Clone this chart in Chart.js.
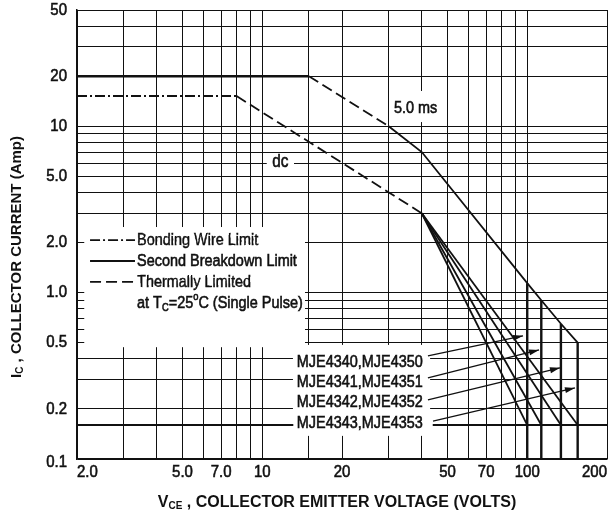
<!DOCTYPE html>
<html>
<head>
<meta charset="utf-8">
<script src="https://cdn.jsdelivr.net/npm/chart.js@4.4.1/dist/chart.umd.min.js"></script>
<style>
  html, body { margin: 0; padding: 0; background: #fff; }
  #wrap { width: 615px; height: 514px; }
</style>
</head>
<body>
<div id="wrap"><canvas id="soa" width="615" height="514"></canvas></div>
<script>
// grid + tick labels
const xGrid = [2, 3, 4, 5, 6, 7, 8, 9, 10, 15, 20, 30, 40, 50, 60, 70, 80, 90, 100, 200];
const xTickValues = [2, 5, 7, 10, 20, 50, 70, 100, 200];
const xTickLabels = ["2.0", "5.0", "7.0", "10", "20", "50", "70", "100", "200"];
const yGrid = [0.1, 0.2, 0.3, 0.4, 0.5, 0.6, 0.7, 0.8, 0.9, 1, 2, 3, 4, 5, 6, 7, 8, 9, 10, 20, 30, 40, 50];
const yTickValues = [0.1, 0.2, 0.5, 1, 2, 5, 10, 20, 50];
const yTickLabels = ["0.1", "0.2", "0.5", "1.0", "2.0", "5.0", "10", "20", "50"];

// 5.0 ms curve
const pulseBondX = [2, 15];
const pulseBondY = [20, 20];
const pulseThermalX = [15, 30];
const pulseThermalY = [20, 10];
const pulseBreakX = [30, 40, 100, 113, 134, 155];
const pulseBreakY = [10, 7, 1.14, 0.9, 0.65, 0.5];

// dc curve
const dcBondX = [2, 8];
const dcBondY = [15.2, 15.2];
const dcThermalX = [8, 40];
const dcThermalY = [15.2, 3];
const dcKneeX = 40;
const dcKneeY = 3;

// device ratings
const deviceNames = ["MJE4340,MJE4350", "MJE4341,MJE4351", "MJE4342,MJE4352", "MJE4343,MJE4353"];
const deviceVolts = [100, 113, 134, 155];
const devicePulseTop = [1.14, 0.9, 0.65, 0.5];
const dcFloor = 0.16;
const axisFloor = 0.1;

// leader arrows from the device labels
const labelRowY = [0.383, 0.291, 0.22, 0.165];
const arrowFromX = [42.2, 42.2, 42.2, 44.1];
const arrowFromY = [0.4165, 0.307, 0.2266, 0.169];
const arrowToX = [96.4, 110.8, 132.9, 151.4];
const arrowToY = [0.55, 0.4525, 0.353, 0.2676];

const legendNames = ["Bonding Wire Limit", "Second Breakdown Limit", "Thermally Limited"];
const legendRowY = [2.07, 1.55, 1.16, 0.867];

const FAMILY = '"Liberation Sans", Arial, sans-serif';
const INK = "#111";
const BOND_DASH = [10, 3, 2, 3];
const THERMAL_DASH = [11, 5];
const SQUEEZE = 0.85;

function pts(xs, ys) {
  return xs.map((x, i) => ({ x: x, y: ys[i] }));
}

function lineSet(data, width, dash) {
  return {
    data: data,
    showLine: true,
    borderColor: INK,
    borderWidth: width,
    borderDash: dash || [],
    pointRadius: 0,
    fill: false,
    tension: 0,
    spanGaps: false,
  };
}

const datasets = [
  lineSet(pts(pulseBondX, pulseBondY), 2.6),
  lineSet(pts(pulseThermalX, pulseThermalY), 1.8, THERMAL_DASH),
  lineSet(pts(pulseBreakX, pulseBreakY), 1.8),
  lineSet(pts(dcBondX, dcBondY), 2, BOND_DASH),
  lineSet(pts(dcThermalX, dcThermalY), 1.8, THERMAL_DASH),
  // bold floor line, broken by the device labels
  lineSet([{ x: 2, y: dcFloor }, { x: 13.1, y: dcFloor }, { x: 13.1, y: null }, { x: 44, y: null }, { x: 44, y: dcFloor }, { x: 200, y: dcFloor }], 2),
];

for (let i = 0; i < deviceVolts.length; i++) {
  datasets.push(lineSet([{ x: dcKneeX, y: dcKneeY }, { x: deviceVolts[i], y: dcFloor }], 1.8));
  datasets.push(lineSet([{ x: deviceVolts[i], y: devicePulseTop[i] }, { x: deviceVolts[i], y: axisFloor }], 2.4));
  datasets.push(lineSet([{ x: arrowFromX[i], y: arrowFromY[i] }, { x: arrowToX[i], y: arrowToY[i] }], 1.3));
}

// white boxes behind the texts: [xmin, xmax, ymax, ymin]
const maskBoxes = [
  [2.13, 14.5, 2.48, 0.47],
  [13.06, 43.0, 0.485, 0.1377],
  [30.6, 46.9, 16.3, 10.6],
  [10.4, 13.18, 6.82, 5.31],
];

// text in pieces (for sub/superscripts), optionally squeezed sideways
function drawRich(ctx, parts, x, y, align, sx, weight) {
  sx = sx || 1;
  let total = 0;
  for (const p of parts) {
    ctx.font = p.font;
    total += ctx.measureText(p.t).width;
  }
  let cx = align === "center" ? -total / 2 : align === "right" ? -total : 0;
  ctx.save();
  ctx.translate(x, y);
  ctx.scale(sx, 1);
  ctx.textAlign = "left";
  ctx.textBaseline = "middle";
  ctx.strokeStyle = INK;
  ctx.lineWidth = weight || 0;
  for (const p of parts) {
    ctx.font = p.font;
    ctx.fillText(p.t, cx, p.dy || 0);
    if (weight) ctx.strokeText(p.t, cx, p.dy || 0);
    cx += ctx.measureText(p.t).width;
  }
  ctx.restore();
}

function narrow(ctx, text, x, y, size, align, sx) {
  drawRich(ctx, [{ t: text, font: size + "px " + FAMILY }], x, y, align, sx || SQUEEZE, 0.6);
}

const annotate = {
  id: "annotate",
  beforeDatasetsDraw(chart) {
    const { ctx, scales: { x, y } } = chart;
    ctx.save();
    ctx.fillStyle = "#fff";
    for (const b of maskBoxes) {
      const l = x.getPixelForValue(b[0]);
      const r = x.getPixelForValue(b[1]);
      const t = y.getPixelForValue(b[2]);
      const bt = y.getPixelForValue(b[3]);
      ctx.fillRect(l, t, r - l, bt - t);
    }
    ctx.restore();
  },
  afterDatasetsDraw(chart) {
    const { ctx, scales: { x, y } } = chart;
    ctx.save();
    ctx.fillStyle = INK;
    ctx.strokeStyle = INK;

    // arrow heads
    for (let i = 0; i < arrowToX.length; i++) {
      const x0 = x.getPixelForValue(arrowFromX[i]);
      const y0 = y.getPixelForValue(arrowFromY[i]);
      const x1 = x.getPixelForValue(arrowToX[i]);
      const y1 = y.getPixelForValue(arrowToY[i]);
      const a = Math.atan2(y1 - y0, x1 - x0);
      ctx.beginPath();
      ctx.moveTo(x1, y1);
      ctx.lineTo(x1 - 10 * Math.cos(a) + 3 * Math.sin(a), y1 - 10 * Math.sin(a) - 3 * Math.cos(a));
      ctx.lineTo(x1 - 10 * Math.cos(a) - 3 * Math.sin(a), y1 - 10 * Math.sin(a) + 3 * Math.cos(a));
      ctx.closePath();
      ctx.fill();
    }

    // device labels
    for (let i = 0; i < deviceNames.length; i++) {
      narrow(ctx, deviceNames[i], x.getPixelForValue(13.5), y.getPixelForValue(labelRowY[i]), 17, "left");
    }

    // curve labels
    narrow(ctx, "5.0 ms", x.getPixelForValue(31.4), y.getPixelForValue(12.9), 17, "left");
    narrow(ctx, "dc", x.getPixelForValue(11.7), y.getPixelForValue(6.1), 18, "center");

    // legend
    const sx0 = x.getPixelForValue(2.24);
    const sx1 = x.getPixelForValue(3.31);
    const dashes = [BOND_DASH, [], THERMAL_DASH];
    for (let i = 0; i < legendNames.length; i++) {
      const py = y.getPixelForValue(legendRowY[i]);
      ctx.setLineDash(dashes[i]);
      ctx.lineWidth = 1.8;
      ctx.beginPath();
      ctx.moveTo(sx0, py);
      ctx.lineTo(sx1, py);
      ctx.stroke();
      narrow(ctx, legendNames[i], x.getPixelForValue(3.37), py, 17, "left");
    }
    ctx.setLineDash([]);
    const f17 = "17px " + FAMILY;
    const f11 = "11px " + FAMILY;
    drawRich(ctx, [
      { t: "at T", font: f17 },
      { t: "C", font: f11, dy: 5 },
      { t: "=25", font: f17 },
      { t: "o", font: f11, dy: -6 },
      { t: "C (Single Pulse)", font: f17 },
    ], x.getPixelForValue(3.37), y.getPixelForValue(legendRowY[3]), "left", SQUEEZE, 0.6);
    ctx.restore();
  },
  afterDraw(chart) {
    const { ctx, scales: { x, y } } = chart;
    ctx.save();
    ctx.fillStyle = INK;
    const bottom = y.getPixelForValue(axisFloor);
    for (let i = 0; i < xTickValues.length; i++) {
      const px = x.getPixelForValue(xTickValues[i]);
      const align = i === 0 ? "left" : i === xTickValues.length - 1 ? "right" : "center";
      narrow(ctx, xTickLabels[i], px, bottom + 13, 17, align, 0.88);
    }
    for (let i = 0; i < yTickValues.length; i++) {
      narrow(ctx, yTickLabels[i], x.left - 10, y.getPixelForValue(yTickValues[i]) + (i === 0 ? 3 : 0), 17, "right", 0.88);
    }

    // axis titles
    const b16 = "bold 16px " + FAMILY;
    const b10 = "bold 10px " + FAMILY;
    drawRich(ctx, [
      { t: "V", font: b16 },
      { t: "CE", font: b10, dy: 3 },
      { t: " , COLLECTOR EMITTER VOLTAGE (VOLTS)", font: b16 },
    ], 337, bottom + 44, "center");

    ctx.translate(17, 257);
    ctx.rotate(-Math.PI / 2);
    const b15 = "bold 15px " + FAMILY;
    drawRich(ctx, [
      { t: "I", font: b15 },
      { t: "C", font: b10, dy: 3 },
      { t: " , COLLECTOR CURRENT (Amp)", font: b15 },
    ], 0, 0, "center");
    ctx.restore();
  },
};

function gridAxis(values, min, max, fit) {
  return {
    type: "logarithmic",
    min: min,
    max: max,
    afterBuildTicks: (axis) => {
      axis.ticks = values.map((v) => ({ value: v }));
    },
    afterFit: fit,
    ticks: { display: false },
    grid: { color: INK, lineWidth: 1, drawTicks: false },
    border: { display: true, color: INK, width: 1.5 },
  };
}

new Chart(document.getElementById("soa"), {
  type: "scatter",
  data: { datasets: datasets },
  options: {
    responsive: false,
    animation: false,
    devicePixelRatio: 1,
    layout: { padding: { left: 0, top: 10, right: 8, bottom: 0 } },
    plugins: { legend: { display: false }, tooltip: { enabled: false } },
    scales: {
      x: gridAxis(xGrid, 2, 200, (s) => { s.height = 55; }),
      y: gridAxis(yGrid, 0.1, 50, (s) => { s.width = 77; }),
    },
  },
  plugins: [annotate],
});
</script>
</body>
</html>
